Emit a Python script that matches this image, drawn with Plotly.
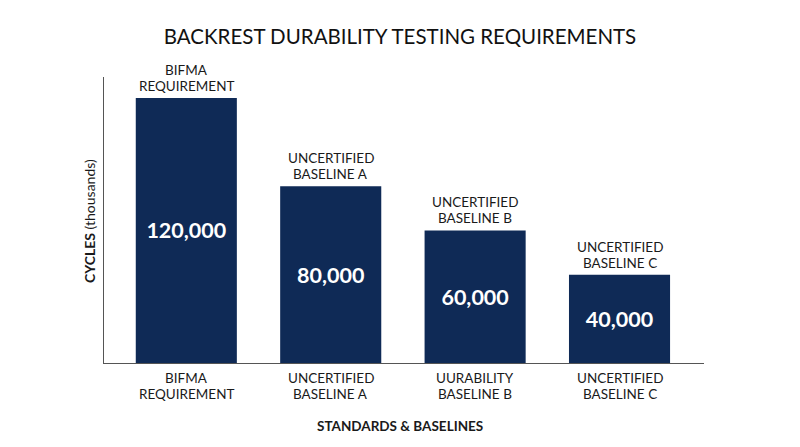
import plotly.graph_objects as go

# Data
categories = ["BIFMA REQUIREMENT", "UNCERTIFIED BASELINE A",
              "UURABILITY BASELINE B", "UNCERTIFIED BASELINE C"]
tick_lines = [["BIFMA", "REQUIREMENT"], ["UNCERTIFIED", "BASELINE A"],
              ["UURABILITY", "BASELINE B"], ["UNCERTIFIED", "BASELINE C"]]
top_lines = [["BIFMA", "REQUIREMENT"], ["UNCERTIFIED", "BASELINE A"],
             ["UNCERTIFIED", "BASELINE B"], ["UNCERTIFIED", "BASELINE C"]]
cycles = [120000, 80000, 60000, 40000]

NAVY = "#0f2a56"
INK = "#1a1a1a"
FONT = "Lato"

fig = go.Figure()

fig.add_trace(go.Bar(
    x=categories, y=cycles, width=0.7,
    marker=dict(color=NAVY, line=dict(width=0)),
    text=[f"{v:,}" for v in cycles],
    textposition="inside", insidetextanchor="middle", textangle=0,
    textfont=dict(family=FONT, size=21.5, color="white", weight="bold"),
    hoverinfo="skip",
))

# two-line labels, one annotation per line to keep the line spacing tight
for cat, top, bottom, val in zip(categories, top_lines, tick_lines, cycles):
    for line, shift in zip(top, [28, 12]):
        fig.add_annotation(x=cat, y=val, text=line, showarrow=False,
                           yanchor="middle", yshift=shift, borderpad=0,
                           font=dict(family=FONT, size=13.5, color=INK))
    for line, shift in zip(bottom, [-15, -31]):
        fig.add_annotation(x=cat, y=0, yref="paper", text=line, showarrow=False,
                           yanchor="middle", yshift=shift, borderpad=0,
                           font=dict(family=FONT, size=13.5, color=INK))

# y axis title, bold word + normal word
fig.add_annotation(xref="paper", yref="paper", x=-0.023, y=0.497,
                   text="<b>CYCLES</b> (thousands)", textangle=-90,
                   showarrow=False, xanchor="center", yanchor="middle",
                   font=dict(family=FONT, size=14, color=INK))

fig.add_annotation(xref="paper", yref="paper", x=0.493, y=-0.22,
                   text="<b>STANDARDS &amp; BASELINES</b>", showarrow=False,
                   xanchor="center", yanchor="middle",
                   font=dict(family=FONT, size=13.5, color=INK))

fig.update_layout(
    width=800, height=447,
    margin=dict(l=104, r=96, t=77, b=84),
    paper_bgcolor="white", plot_bgcolor="white",
    showlegend=False,
    title=dict(text="BACKREST DURABILITY TESTING REQUIREMENTS",
               x=0.5, xanchor="center", y=0.917, yanchor="middle",
               font=dict(family=FONT, size=20.5, color="#111111")),
    xaxis=dict(range=[-0.57, 3.585], showline=True, linecolor="#555555",
               linewidth=1, ticks="", showgrid=False, showticklabels=False),
    yaxis=dict(range=[0, 129500], showline=True, linecolor="#555555",
               linewidth=1, ticks="", showticklabels=False, showgrid=False,
               zeroline=False),
)

fig.write_html("out.html", config={"displayModeBar": False},
               post_script="document.body.style.margin='0';")
